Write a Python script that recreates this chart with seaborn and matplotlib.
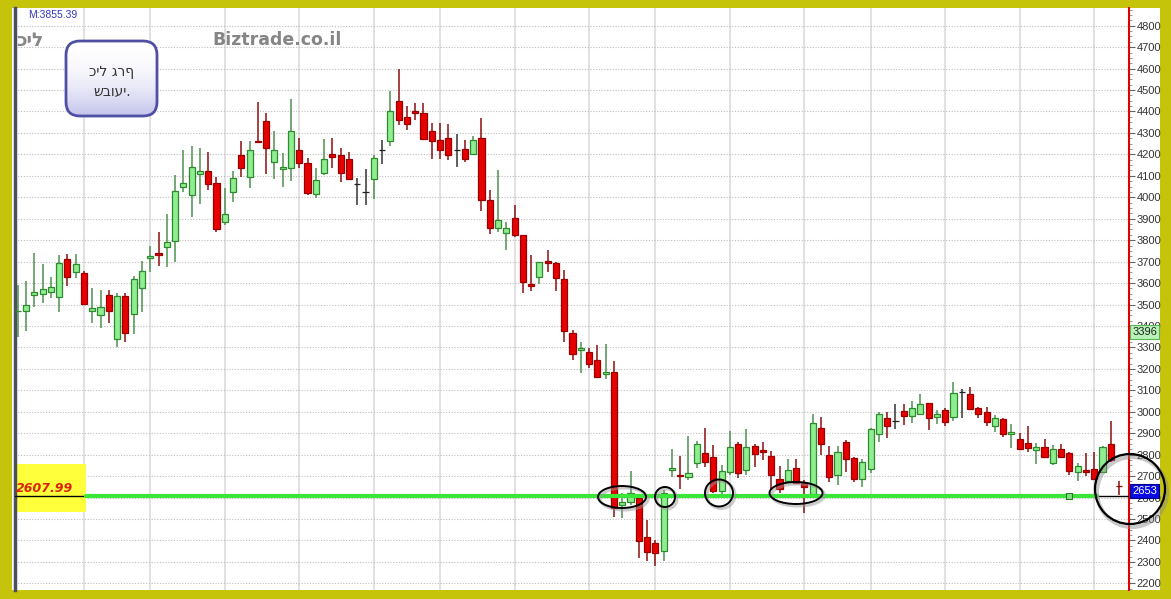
import numpy as np
import pandas as pd
import matplotlib
matplotlib.use("Agg")
import matplotlib.pyplot as plt
import matplotlib.transforms as mtransforms
from matplotlib.patches import Ellipse, FancyBboxPatch, Rectangle
from matplotlib.colors import LinearSegmentedColormap
from matplotlib.ticker import MultipleLocator
import seaborn as sns

# -----------------------------
# WEEKLY OHLC
# -----------------------------
opens = [3468, 3470, 3546, 3551, 3559, 3534, 3711, 3650, 3648, 3471,
         3451, 3543, 3338, 3541, 3455, 3576, 3716, 3739, 3770, 3798,
         4049, 4011, 4109, 4123, 4065, 3885, 4026, 4197, 4096, 4262,
         4356, 4163, 4130, 4135, 4221, 4158, 4014, 4112, 4200, 4197,
         4177, 4062, 4026, 4084, 4221, 4262, 4449, 4373, 4402, 4394,
         4309, 4267, 4275, 4220, 4225, 4202, 4275, 3987, 3858, 3835,
         3902, 3823, 3596, 3627, 3705, 3692, 3619, 3366, 3290, 3277,
         3242, 3176, 3187, 2566, 2581, 2597, 2415, 2390, 2352, 2727,
         2705, 2697, 2760, 2806, 2788, 2631, 2718, 2848, 2728, 2841,
         2822, 2795, 2687, 2679, 2739, 2667, 2616, 2923, 2799, 2705,
         2861, 2783, 2685, 2733, 2896, 2972, 2957, 3005, 2980, 2988,
         3040, 2977, 3008, 2974, 3091, 3082, 3016, 3000, 2935, 2965,
         2896, 2873, 2853, 2822, 2837, 2763, 2827, 2806, 2718, 2729,
         2732, 2721, 2850, 2654]
closes = [3472, 3498, 3557, 3571, 3580, 3692, 3630, 3688, 3504, 3484,
          3490, 3470, 3541, 3366, 3619, 3657, 3728, 3732, 3793, 4029,
          4065, 4143, 4121, 4061, 3852, 3920, 4089, 4135, 4221, 4259,
          4231, 4221, 4143, 4311, 4158, 4019, 4081, 4177, 4189, 4115,
          4084, 4062, 4026, 4182, 4221, 4402, 4360, 4342, 4392, 4272,
          4264, 4221, 4197, 4220, 4177, 4267, 3989, 3855, 3894, 3855,
          3824, 3607, 3587, 3697, 3692, 3622, 3378, 3268, 3295, 3221,
          3164, 3187, 2550, 2581, 2620, 2399, 2348, 2340, 2620, 2738,
          2699, 2713, 2848, 2765, 2632, 2724, 2834, 2713, 2834, 2803,
          2811, 2705, 2640, 2729, 2667, 2648, 2949, 2848, 2697, 2814,
          2780, 2687, 2764, 2920, 2990, 2935, 2957, 2982, 3016, 3035,
          2972, 2990, 2954, 3086, 3091, 3013, 2990, 2954, 2970, 2895,
          2907, 2825, 2833, 2837, 2788, 2825, 2788, 2725, 2747, 2718,
          2687, 2834, 2776, 2653]
highs = [3591, 3610, 3739, 3689, 3627, 3731, 3734, 3734, 3655, 3576,
         3568, 3568, 3555, 3555, 3633, 3703, 3773, 3837, 3921, 4104,
         4221, 4239, 4229, 4210, 4096, 4045, 4121, 4262, 4262, 4443,
         4392, 4309, 4205, 4457, 4275, 4185, 4135, 4272, 4275, 4229,
         4213, 4089, 4132, 4197, 4267, 4497, 4598, 4427, 4438, 4438,
         4345, 4345, 4340, 4295, 4267, 4286, 4369, 4034, 4127, 3886,
         3964, 3824, 3731, 3700, 3754, 3700, 3661, 3381, 3324, 3296,
         3311, 3315, 3237, 2620, 2723, 2604, 2496, 2402, 2635, 2825,
         2795, 2887, 2865, 2923, 2843, 2752, 2911, 2861, 2918, 2849,
         2861, 2818, 2746, 2780, 2780, 2682, 2988, 2977, 2839, 2839,
         2869, 2791, 2780, 2923, 2998, 3000, 3035, 3036, 3052, 3082,
         3042, 3008, 3016, 3140, 3105, 3117, 3024, 3024, 2985, 2970,
         2943, 2900, 2934, 2853, 2872, 2845, 2849, 2814, 2760, 2809,
         2813, 2839, 2958, 2679]
lows = [3347, 3378, 3487, 3506, 3529, 3467, 3586, 3622, 3500, 3413,
        3389, 3413, 3301, 3327, 3363, 3464, 3653, 3680, 3676, 3700,
        4026, 3910, 3969, 4034, 3837, 3870, 3979, 4096, 4045, 4255,
        4107, 4084, 4049, 4077, 4135, 4011, 3995, 4104, 4138, 4073,
        4081, 3964, 3964, 3991, 4155, 4239, 4337, 4314, 4360, 4267,
        4177, 4177, 4174, 4143, 4166, 4197, 3936, 3830, 3840, 3754,
        3813, 3552, 3563, 3596, 3653, 3563, 3327, 3242, 3180, 3203,
        3159, 3152, 2511, 2504, 2566, 2320, 2305, 2281, 2305, 2697,
        2639, 2682, 2737, 2744, 2620, 2612, 2703, 2690, 2705, 2741,
        2775, 2635, 2620, 2671, 2667, 2527, 2604, 2799, 2674, 2659,
        2721, 2674, 2651, 2713, 2861, 2876, 2920, 2938, 2949, 2985,
        2915, 2943, 2935, 2958, 2970, 3008, 2970, 2935, 2907, 2881,
        2830, 2822, 2814, 2755, 2788, 2752, 2783, 2705, 2679, 2702,
        2682, 2713, 2767, 2612]

month_ticks = [8, 16, 25, 34, 43, 51, 60, 69, 77, 86, 95, 103, 112, 121, 130]
price_ticks = list(range(2200, 4900, 100))
support_level = 2607.99
last_price = 2653
mark_price = 3396
marker_week = 127

title_top = "M:3855.39"
symbol = "כיל"
site = "Biztrade.co.il"
note_lines = ["כיל גרף", "שבועי."]

# hand-drawn circles around the support touches (pixel x, y, w, h)
circles = [(622, 497, 48, 22), (665, 497, 20, 20), (719, 493, 28, 27), (796, 493, 53, 22)]

# -----------------------------
# FIGURE
# -----------------------------
sns.set_theme(style="white")
plt.rcParams["font.family"] = ["DejaVu Sans"]

W, H = 1171, 599
fig = plt.figure(figsize=(W / 100, H / 100), dpi=100)
fig.patch.set_facecolor("#c6c30b")
px = mtransforms.Affine2D().scale(1 / W, -1 / H).translate(0, 1) + fig.transFigure

fig.add_artist(Rectangle((12, 8), 1148, 582, transform=px, fc="white", ec="none", zorder=-1))

ax = fig.add_axes([15 / W, 9 / H, 1114 / W, 582 / H])
ax.set_facecolor("white")

df = pd.DataFrame({"open": opens, "high": highs, "low": lows, "close": closes})
df["week"] = np.arange(len(df))
up = df["close"] > df["open"]
down = df["close"] < df["open"]
fill = np.where(up, "#8fee8f", np.where(down, "#e60000", "#222222"))
edge = np.where(up, "#2f8a2f", np.where(down, "#9a0000", "#222222"))
wick = np.where(up, "#4f8f4f", np.where(down, "#8a1010", "#333333"))

ax.vlines(df["week"], df["low"], df["high"], colors=wick, linewidth=1.1, zorder=3)
ax.bar(df["week"], (df["close"] - df["open"]).abs(),
       bottom=df[["open", "close"]].min(axis=1), width=0.74,
       color=fill, edgecolor=edge, linewidth=0.9, zorder=4)

# support line
ax.axhline(support_level, color="black", linewidth=1, zorder=5)
line_df = pd.DataFrame({"week": [month_ticks[0] + 0.3, month_ticks[-1] + 0.35],
                        "price": [support_level, support_level]})
sns.lineplot(data=line_df, x="week", y="price", color="#3be63b", linewidth=3, ax=ax, zorder=6)
sns.scatterplot(x=[marker_week], y=[support_level], marker="s", s=22, color="#7ee07e",
                edgecolor="#2a7a2a", linewidth=0.8, ax=ax, zorder=7)

ax.set_xlim(-0.33, 134.2)
ax.set_ylim(2169, 4882.5)
ax.set_xlabel("")
ax.set_ylabel("")

ax.set_xticks(month_ticks)
ax.tick_params(axis="x", length=0, labelbottom=False)
ax.xaxis.grid(True, color="#dcdcdc", linewidth=1.2)
ax.yaxis.tick_right()
ax.set_yticks(price_ticks)
ax.set_yticklabels([str(p) for p in price_ticks], fontsize=8, color="#333333",
                   family="Liberation Sans")
ax.yaxis.set_minor_locator(MultipleLocator(25))
ax.tick_params(axis="y", which="both", right=True, left=False, labelright=True, labelleft=False)
ax.tick_params(axis="y", which="major", length=4, width=0.8, color="#666666", pad=1.5)
ax.tick_params(axis="y", which="minor", length=2, width=0.6, color="#888888")
ax.yaxis.grid(True, which="major", color="#bdbdbd", linestyle=(0, (1, 1.5)), linewidth=0.8)
ax.set_axisbelow(True)
for s in ["top", "bottom"]:
    ax.spines[s].set_visible(False)
ax.spines["right"].set_color("#e00000")
ax.spines["right"].set_linewidth(1.5)
ax.spines["left"].set_color("#4a505e")
ax.spines["left"].set_linewidth(2.5)

# price flags on the axis
ytr = ax.get_yaxis_transform()
ax.text(1.003, mark_price, str(mark_price), transform=ytr, ha="left", va="top", fontsize=8,
        color="#222222", family="Liberation Sans", clip_on=False, zorder=10,
        bbox=dict(boxstyle="square,pad=0.2", fc="#b8f2b8", ec="#5ab45a", lw=0.8))
ax.text(1.003, last_price, str(last_price), transform=ytr, ha="left", va="top", fontsize=8,
        color="white", family="Liberation Sans", clip_on=False, zorder=10,
        bbox=dict(boxstyle="square,pad=0.2", fc="#0a0ae6", ec="#000080", lw=0.8))

# yellow price flag on the left
yb = Rectangle((14, 464), 72, 48, transform=px, fc="#ffff3c", ec="none", zorder=1.5)
ax.add_patch(yb)
yb.set_clip_on(False)
ax.text(16, 488, f"{support_level:.2f}", transform=px, fontsize=9, fontweight="bold",
        fontstyle="italic", color="#dd2200", va="center", ha="left", zorder=8, clip_on=False)

# circles around touches
for cx, cy, w, h in circles:
    sh = Ellipse((cx + 2, cy + 2), w, h, transform=px, fill=False, ec="#999999", lw=2.2, alpha=0.5, zorder=8)
    el = Ellipse((cx, cy), w, h, transform=px, fill=False, ec="black", lw=1.4, zorder=9)
    ax.add_patch(sh)
    ax.add_patch(el)

# -----------------------------
# OVERLAY (pixel space)
# -----------------------------
ov = fig.add_axes([0, 0, 1, 1], zorder=5)
ov.patch.set_alpha(0)
ov.axis("off")

box = FancyBboxPatch((66, 41), 91, 75, boxstyle="round,pad=0,rounding_size=14",
                     fc="none", ec="none")
ov.add_patch(box)
grad = np.linspace(0, 1, 100).reshape(-1, 1) ** 2
cmap = LinearSegmentedColormap.from_list("lav", ["#ffffff", "#c4c4ec"])
im = ov.imshow(grad, extent=(66, 157, 116, 41), cmap=cmap, aspect="auto", zorder=1)
im.set_clip_path(box)
ov.add_patch(FancyBboxPatch((66, 41), 91, 75, boxstyle="round,pad=0,rounding_size=14",
                            fc="none", ec="#4f4fa5", lw=2, zorder=2))
ov.text(112, 72, note_lines[0], fontsize=10, color="#333333", ha="center", va="center", zorder=3)
ov.text(112, 91, note_lines[1], fontsize=10, color="#333333", ha="center", va="center", zorder=3)

ov.text(28, 14.5, title_top, fontsize=7.5, color="#3535c0", family="Liberation Sans",
        ha="left", va="center")
ov.text(16, 40, symbol, fontsize=13.5, fontweight="bold", color="#888888", ha="left", va="center")
ov.text(212, 40, site, fontsize=12.5, fontweight="bold", color="#858585", ha="left", va="center")

# magnifier circle at the last bar
ov.add_patch(Ellipse((1132, 492), 70, 70, fill=False, ec="#888888", lw=3, alpha=0.45, zorder=3))
ov.add_patch(Ellipse((1130, 489), 70, 70, fill=False, ec="black", lw=1.6, zorder=4))

ov.set_xlim(0, W)
ov.set_ylim(H, 0)

plt.savefig("out.png", dpi=100, facecolor=fig.get_facecolor())
print("Saved out.png")
